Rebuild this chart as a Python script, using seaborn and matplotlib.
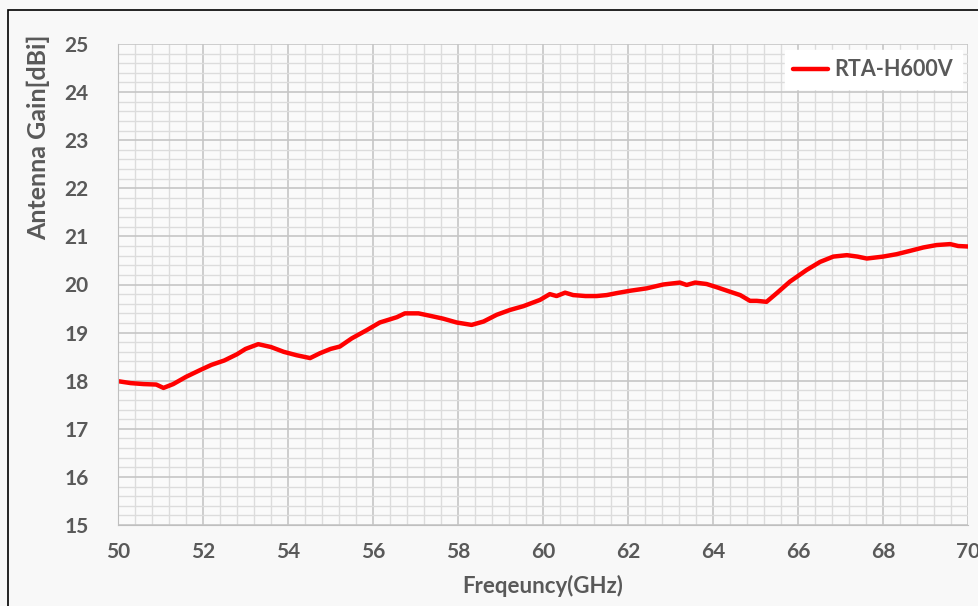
import numpy as np
import pandas as pd
import seaborn as sns
import matplotlib.pyplot as plt
from matplotlib.patches import Rectangle
from matplotlib.ticker import MultipleLocator

# values
freq_ghz = [50.0, 50.3, 50.6, 50.9, 51.07, 51.3, 51.6, 51.93, 52.2, 52.5,
            52.8, 53.0, 53.3, 53.6, 53.9, 54.2, 54.52, 54.75, 55.0, 55.22,
            55.5, 55.85, 56.16, 56.56, 56.75, 57.07, 57.34, 57.65, 57.97, 58.32,
            58.6, 58.91, 59.22, 59.54, 59.93, 60.16, 60.32, 60.52, 60.71, 61.0,
            61.26, 61.5, 61.73, 62.05, 62.44, 62.83, 63.22, 63.38, 63.58, 63.85,
            64.1, 64.4, 64.64, 64.87, 65.03, 65.26, 65.5, 65.81, 66.2, 66.52,
            66.83, 67.15, 67.4, 67.62, 68.0, 68.32, 68.64, 68.95, 69.26, 69.58,
            69.77, 70.0]
gain_dbi = [17.99, 17.95, 17.93, 17.92, 17.85, 17.93, 18.08, 18.22, 18.33, 18.42,
            18.55, 18.66, 18.76, 18.70, 18.60, 18.53, 18.47, 18.57, 18.66, 18.71,
            18.88, 19.05, 19.21, 19.32, 19.40, 19.40, 19.35, 19.29, 19.21, 19.16,
            19.23, 19.37, 19.47, 19.55, 19.68, 19.80, 19.76, 19.83, 19.78, 19.76,
            19.76, 19.78, 19.82, 19.87, 19.92, 20.00, 20.04, 19.99, 20.04, 20.01,
            19.94, 19.85, 19.78, 19.66, 19.66, 19.64, 19.82, 20.06, 20.30, 20.47,
            20.58, 20.61, 20.58, 20.54, 20.58, 20.63, 20.70, 20.77, 20.82, 20.84,
            20.80, 20.79]
series_name = "RTA-H600V"

df = pd.DataFrame({"freq": freq_ghz, "gain": gain_dbi, "antenna": series_name})

sns.set_style("whitegrid")
plt.rcParams['font.family'] = ['Lato', 'DejaVu Sans']
text_color = "#595959"

fig = plt.figure(figsize=(9.79, 6.06), dpi=100, facecolor="#f8f8f8")
fig.patches.append(Rectangle((8 / 979, -0.1), 1.2, 1.1 - 10 / 606, transform=fig.transFigure,
                             fill=False, edgecolor="black", linewidth=1.2))
ax = fig.add_axes([118 / 979, 1 - 525 / 606, 850 / 979, 481 / 606])
ax.set_facecolor("#fafafa")

sns.lineplot(data=df, x="freq", y="gain", hue="antenna", palette=["#ff0000"],
             linewidth=3.2, ax=ax)

ax.set_xlim(50, 70)
ax.set_ylim(15, 25)
ax.xaxis.set_major_locator(MultipleLocator(2))
ax.xaxis.set_minor_locator(MultipleLocator(0.4))
ax.yaxis.set_major_locator(MultipleLocator(1))
ax.yaxis.set_minor_locator(MultipleLocator(0.2))
ax.grid(True, which="major", color="#c6c6c6", linewidth=1.2)
ax.grid(True, which="minor", color="#dcdcdc", linewidth=1.0)
ax.set_axisbelow(True)
ax.tick_params(which="both", length=0)
ax.tick_params(axis="y", pad=21)
ax.tick_params(axis="x", pad=12)
for lbl in ax.get_xticklabels() + ax.get_yticklabels():
    lbl.set_fontsize(15)
    lbl.set_fontweight("bold")
    lbl.set_color(text_color)
for side in ["top", "right"]:
    ax.spines[side].set_visible(False)
for side in ["left", "bottom"]:
    ax.spines[side].set_color("#bfbfbf")

ax.set_xlabel("Freqeuncy(GHz)", fontsize=16, fontweight="bold", color=text_color)
ax.set_ylabel("Antenna Gain[dBi]", fontsize=18, fontweight="bold", color=text_color)
ax.xaxis.set_label_coords(0.5, -0.103)
ax.yaxis.set_label_coords(-0.08, 0.806)

leg = ax.legend(loc="upper right", frameon=True, fancybox=False, framealpha=1,
                edgecolor="white", facecolor="white", borderaxespad=0.3,
                handlelength=1.6, handletextpad=0.3, prop={"weight": "bold", "size": 15.5})
for t in leg.get_texts():
    t.set_color(text_color)

fig.savefig("out.png", dpi=100, facecolor=fig.get_facecolor())
